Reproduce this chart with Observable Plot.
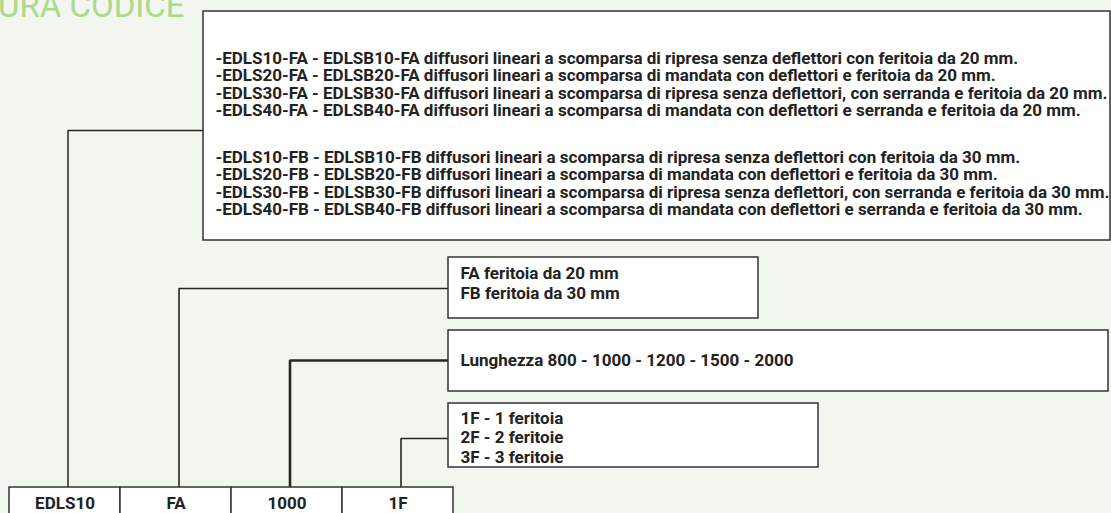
<!DOCTYPE html>
<html><head><meta charset="utf-8">
<script src="https://cdn.jsdelivr.net/npm/d3@7"></script>
<script src="https://cdn.jsdelivr.net/npm/@observablehq/plot@0.6"></script>
<style>html,body{margin:0;padding:0;background:#f1f7ee;overflow:hidden}</style>
</head><body><div id="chart"></div>
<script>
// ---- content ----
const title = "URA CODICE";
const codeParts = ["EDLS10", "FA", "1000", "1F"];
const modelsFA = [
  "-EDLS10-FA - EDLSB10-FA diffusori lineari a scomparsa di ripresa senza deflettori con feritoia da 20 mm.",
  "-EDLS20-FA - EDLSB20-FA diffusori lineari a scomparsa di mandata con deflettori e feritoia da 20 mm.",
  "-EDLS30-FA - EDLSB30-FA diffusori lineari a scomparsa di ripresa senza deflettori, con serranda e feritoia da 20 mm.",
  "-EDLS40-FA - EDLSB40-FA diffusori lineari a scomparsa di mandata con deflettori e serranda e feritoia da 20 mm."
];
const modelsFB = [
  "-EDLS10-FB - EDLSB10-FB diffusori lineari a scomparsa di ripresa senza deflettori con feritoia da 30 mm.",
  "-EDLS20-FB - EDLSB20-FB diffusori lineari a scomparsa di mandata con deflettori e feritoia da 30 mm.",
  "-EDLS30-FB - EDLSB30-FB diffusori lineari a scomparsa di ripresa senza deflettori, con serranda e feritoia da 30 mm.",
  "-EDLS40-FB - EDLSB40-FB diffusori lineari a scomparsa di mandata con deflettori e serranda e feritoia da 30 mm."
];
const feritoiaOptions = ["FA feritoia da 20 mm", "FB feritoia da 30 mm"];
const lunghezzaOptions = ["Lunghezza 800 - 1000 - 1200 - 1500 - 2000"];
const feritoieOptions = ["1F - 1 feritoia", "2F - 2 feritoie", "3F - 3 feritoie"];

// ---- layout (diagram geometry) ----
const W = 1111, H = 513;
const cellX0 = 9, cellW = 111, cellTop = 487, cellBottom = 530;
const cells = codeParts.map((label, i) => ({
  label, x1: cellX0 + i * cellW, x2: cellX0 + (i + 1) * cellW,
  cx: cellX0 + i * cellW + cellW / 2
}));
const boxes = [
  {part: 0, x1: 203, x2: 1110, y1: 11, y2: 240, joinY: 130,
   lines: [...modelsFA.map((t, i) => ({t, y: 58 + i * 17.5})),
           ...modelsFB.map((t, i) => ({t, y: 157 + i * 17.5}))], sw: 1.5},
  {part: 1, x1: 448, x2: 758, y1: 257, y2: 318, joinY: 288,
   lines: feritoiaOptions.map((t, i) => ({t, y: 273.5 + i * 19.5})), sw: 1.6},
  {part: 2, x1: 448, x2: 1108, y1: 330, y2: 391, joinY: 360,
   lines: lunghezzaOptions.map((t) => ({t, y: 360})), sw: 2.6},
  {part: 3, x1: 448, x2: 818, y1: 403, y2: 467, joinY: 438,
   lines: feritoieOptions.map((t, i) => ({t, y: 418 + i * 19.5})), sw: 1.6}
];
const connectors = boxes.flatMap((b, k) => {
  const x = cells[b.part].cx + 3;
  return [
    {k, x, y: cellTop},
    {k, x, y: b.joinY},
    {k, x: b.x1, y: b.joinY}
  ];
});
const textRows = boxes.flatMap(b => b.lines.map(l => ({t: l.t, x: b.x1 + 12, y: l.y})));

const font = "Roboto, 'Liberation Sans', sans-serif";
const chart = Plot.plot({
  width: W, height: H, margin: 0,
  x: {domain: [0, W], range: [0, W], axis: null},
  y: {domain: [0, H], range: [0, H], axis: null},
  style: {background: "#f1f7ee", fontFamily: font},
  marks: [
    Plot.text([title], {x: 184, y: 16, text: d => d, textAnchor: "end", lineAnchor: "bottom",
      fontSize: 33, fill: "#add88f", fontFamily: font}),
    ...boxes.map((b, k) => Plot.line(connectors.filter(c => c.k === k),
      {x: "x", y: "y", stroke: "#262626", strokeWidth: b.sw, curve: "linear", strokeLinejoin: "miter"})),
    Plot.rect(boxes, {x1: "x1", x2: "x2", y1: "y1", y2: "y2", fill: "white", stroke: "#333", strokeWidth: 1.5}),
    Plot.rect(cells, {x1: "x1", x2: "x2", y1: cellTop, y2: cellBottom, fill: "white", stroke: "#333", strokeWidth: 1.5}),
    Plot.text(cells, {x: "cx", y: 503.5, text: "label", fontSize: 17, fontWeight: "bold", fill: "#222", fontFamily: font}),
    Plot.text(textRows, {x: "x", y: "y", text: "t", textAnchor: "start", fontSize: 17, fontWeight: "bold",
      fill: "#222", fontFamily: font})
  ]
});
document.getElementById("chart").appendChild(chart);
</script>
</body></html>
